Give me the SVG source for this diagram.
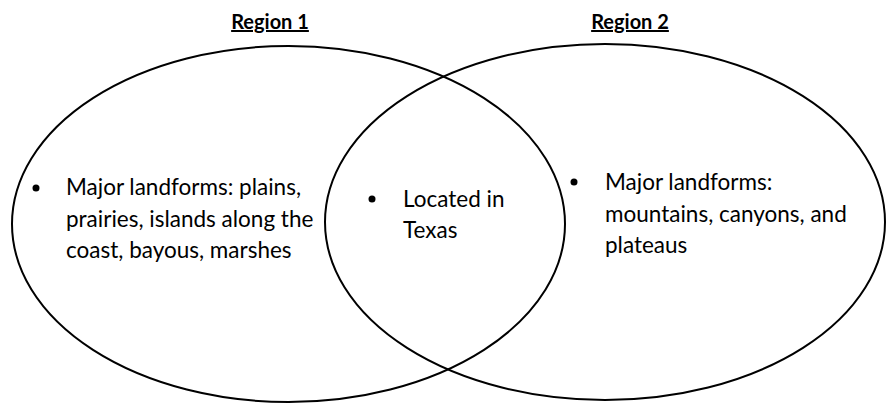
<svg xmlns="http://www.w3.org/2000/svg" width="891" height="407" viewBox="0 0 891 407">
<style>
.bg{fill:#fff}
.set{fill:none;stroke:#000;stroke-width:2}
.title{font-family:Lato,"Liberation Sans",sans-serif;font-weight:bold;font-size:20px;fill:#000;text-decoration:underline;text-anchor:middle}
.t{font-family:Lato,"Liberation Sans",sans-serif;font-size:22.5px;fill:#000}
.dot{fill:#000}
</style>
<rect class="bg" width="891" height="407"/>
<g id="region1">
<ellipse class="set" cx="288.5" cy="224" rx="276.5" ry="178"/>
<text class="title" x="270" y="29">Region 1</text>
<circle class="dot" cx="36" cy="188" r="3.5"/>
<text class="t" x="66" y="195">Major landforms: plains,</text>
<text class="t" x="66" y="227">prairies, islands along the</text>
<text class="t" x="66" y="258">coast, bayous, marshes</text>
</g>
<g id="region2">
<ellipse class="set" cx="605" cy="222" rx="280" ry="178"/>
<text class="title" x="630" y="29">Region 2</text>
<circle class="dot" cx="574" cy="182" r="3.5"/>
<text class="t" x="605" y="190">Major landforms:</text>
<text class="t" x="605" y="222">mountains, canyons, and</text>
<text class="t" x="605" y="253">plateaus</text>
</g>
<g id="overlap">
<circle class="dot" cx="372" cy="199" r="3.5"/>
<text class="t" x="403" y="207">Located in</text>
<text class="t" x="403" y="238">Texas</text>
</g>
<g id="connectors"></g>
</svg>
